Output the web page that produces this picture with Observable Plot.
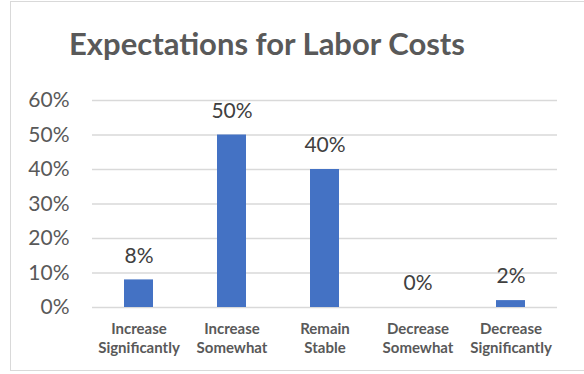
<!DOCTYPE html>
<html>
<head>
<meta charset="utf-8">
<script src="https://cdn.jsdelivr.net/npm/d3@7"></script>
<script src="https://cdn.jsdelivr.net/npm/@observablehq/plot@0.6"></script>
<style>
  html, body { margin: 0; padding: 0; background: #fff; }
  #chart { position: relative; width: 584px; height: 374px; overflow: hidden; font-family: Lato, "Open Sans", sans-serif; }
  #frame { position: absolute; left: 10px; top: 1px; width: 600px; height: 370px; border: 1px solid #d9d9d9; box-sizing: border-box; }
  #title { position: absolute; left: 10px; top: 28px; width: 514px; text-align: center; font-size: 31px; line-height: 31px; font-weight: bold; color: #595959; white-space: nowrap; }
  #plot { position: absolute; left: 0; top: 85px; }
</style>
</head>
<body>
<div id="chart">
  <div id="frame"></div>
  <div id="title">Expectations for Labor Costs</div>
  <div id="plot"></div>
</div>
<script>
const categories = ["Increase Significantly", "Increase Somewhat", "Remain Stable", "Decrease Somewhat", "Decrease Significantly"];
const values = [0.08, 0.50, 0.40, 0.00, 0.02];
const yTicks = [0, 0.1, 0.2, 0.3, 0.4, 0.5, 0.6];

const data = categories.map((c, i) => ({category: c, value: values[i]}));
const pct = d3.format(".0%");

const chart = Plot.plot({
  width: 584,
  height: 289,
  marginTop: 15,
  marginBottom: 67,
  marginLeft: 92,
  marginRight: 27,
  style: {fontFamily: "Lato, 'Open Sans', sans-serif", color: "#595959", background: "transparent", overflow: "visible"},
  x: {domain: categories, paddingInner: 0.688, paddingOuter: 0.344, label: null},
  y: {domain: [0, 0.6], label: null},
  marks: [
    Plot.ruleY(yTicks, {stroke: "#d9d9d9", strokeWidth: 1.5}),
    Plot.barY(data, {x: "category", y: "value", fill: "#4472C4"}),
    Plot.text(data, {x: "category", y: "value", text: d => pct(d.value), dy: -24, fontSize: 21, fill: "#404040"}),
    Plot.axisY({ticks: yTicks, tickFormat: pct, tickSize: 0, tickPadding: 23, fontSize: 21, label: null}),
    Plot.axisX({tickSize: 0, tickPadding: 13, fontSize: 15, fontWeight: "bold", lineHeight: 1.25, tickFormat: d => d.replace(" ", "\n"), label: null})
  ]
});
document.getElementById("plot").appendChild(chart);
</script>
</body>
</html>
